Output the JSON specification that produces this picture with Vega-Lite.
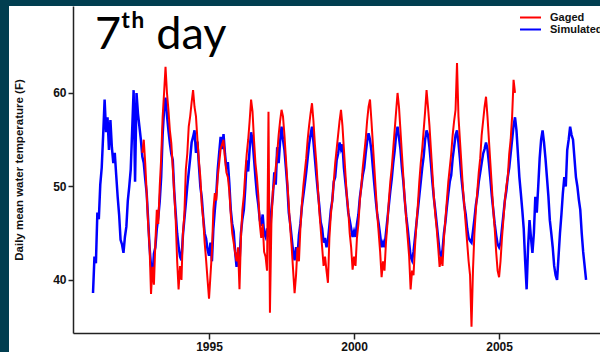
{
  "$schema": "https://vega.github.io/schema/vega-lite/v6.json",
  "autosize": {"type": "none"},
  "padding": {"left": 9, "top": 6, "right": 0, "bottom": 0},
  "width": 591,
  "height": 346,
  "background": "#013e50",
  "title": {"text": "7ᵗʰ day", "font": "Lato", "fontSize": 45, "fontWeight": "normal", "color": "black", "anchor": "start", "frame": "group", "orient": "top", "offset": 0, "baseline": "alphabetic", "dx": 86, "dy": 88},
  "encoding": {
    "x": {"field": "t", "type": "quantitative", "scale": {"domain": [1990.31, 2008.48], "range": [64, 591], "nice": false, "zero": false},
      "axis": {"values": [1995, 2000, 2005], "format": "d", "title": null, "offset": -19, "grid": false, "domainColor": "#222", "domainWidth": 1.5, "tickColor": "#222", "tickWidth": 1.5, "tickSize": 6, "labelPadding": 2, "labelFont": "Liberation Sans", "labelFontWeight": "bold", "labelFontSize": 12, "labelColor": "#111"}},
    "y": {"field": "v", "type": "quantitative", "scale": {"domain": [34.33, 69.3], "range": [327, 0], "nice": false, "zero": false},
      "axis": {"values": [40, 50, 60], "title": "Daily mean water temperature (F)", "offset": -64, "grid": false, "domainColor": "#222", "domainWidth": 1.5, "tickColor": "#222", "tickWidth": 1.5, "tickSize": 5, "labelPadding": 2, "labelFont": "Liberation Sans", "labelFontWeight": "bold", "labelFontSize": 12, "labelColor": "#111", "titleFont": "Liberation Sans", "titleFontWeight": "bold", "titleFontSize": 11.5, "titleColor": "#111", "titlePadding": 28}}
  },
  "layer": [
    {
      "data": {"values": [
{"t":1991.00,"v":38.6},{"t":1991.05,"v":42.5},{"t":1991.10,"v":41.8},{"t":1991.15,"v":47.2},{"t":1991.20,"v":46.5},{"t":1991.25,"v":50.2},{"t":1991.30,"v":52.0},{"t":1991.35,"v":55.5},{"t":1991.40,"v":59.3},{"t":1991.45,"v":55.8},{"t":1991.50,"v":57.4},{"t":1991.55,"v":53.9},{"t":1991.60,"v":57.1},{"t":1991.65,"v":54.2},{"t":1991.70,"v":52.5},{"t":1991.75,"v":53.6},{"t":1991.80,"v":51.2},{"t":1991.85,"v":48.9},{"t":1991.90,"v":47.0},{"t":1991.95,"v":44.3},
{"t":1992.00,"v":43.8},{"t":1992.05,"v":42.9},{"t":1992.10,"v":44.6},{"t":1992.15,"v":45.7},{"t":1992.20,"v":48.5},{"t":1992.25,"v":50.0},{"t":1992.30,"v":51.8},{"t":1992.35,"v":56.0},{"t":1992.40,"v":60.3},{"t":1992.45,"v":50.5},{"t":1992.50,"v":60.0},{"t":1992.55,"v":57.8},{"t":1992.60,"v":56.4},{"t":1992.65,"v":55.0},{"t":1992.70,"v":53.2},{"t":1992.75,"v":52.5},{"t":1992.80,"v":50.8},{"t":1992.85,"v":49.3},{"t":1992.90,"v":46.5},{"t":1992.95,"v":43.5},
{"t":1993.00,"v":41.5},{"t":1993.05,"v":40.3},{"t":1993.10,"v":42.8},{"t":1993.15,"v":43.5},{"t":1993.20,"v":45.5},{"t":1993.25,"v":46.7},{"t":1993.30,"v":48.4},{"t":1993.35,"v":51.0},{"t":1993.40,"v":55.5},{"t":1993.45,"v":58.2},{"t":1993.50,"v":59.5},{"t":1993.55,"v":57.6},{"t":1993.60,"v":56.0},{"t":1993.65,"v":54.6},{"t":1993.70,"v":53.5},{"t":1993.75,"v":52.8},{"t":1993.80,"v":49.5},{"t":1993.85,"v":47.2},{"t":1993.90,"v":45.0},{"t":1993.95,"v":43.6},
{"t":1994.00,"v":42.5},{"t":1994.05,"v":42.1},{"t":1994.10,"v":44.8},{"t":1994.15,"v":46.5},{"t":1994.20,"v":48.2},{"t":1994.25,"v":50.0},{"t":1994.30,"v":51.5},{"t":1994.35,"v":53.0},{"t":1994.40,"v":54.7},{"t":1994.45,"v":55.3},{"t":1994.50,"v":56.0},{"t":1994.55,"v":53.6},{"t":1994.60,"v":54.8},{"t":1994.65,"v":52.3},{"t":1994.70,"v":50.0},{"t":1994.75,"v":48.8},{"t":1994.80,"v":46.7},{"t":1994.85,"v":45.0},{"t":1994.90,"v":44.4},{"t":1994.95,"v":43.2},
{"t":1995.00,"v":42.6},{"t":1995.05,"v":44.0},{"t":1995.10,"v":42.0},{"t":1995.15,"v":45.5},{"t":1995.20,"v":47.5},{"t":1995.25,"v":49.2},{"t":1995.30,"v":51.8},{"t":1995.35,"v":53.6},{"t":1995.40,"v":55.3},{"t":1995.45,"v":54.0},{"t":1995.50,"v":55.6},{"t":1995.55,"v":53.5},{"t":1995.60,"v":51.9},{"t":1995.65,"v":52.6},{"t":1995.70,"v":50.3},{"t":1995.75,"v":47.5},{"t":1995.80,"v":46.0},{"t":1995.85,"v":45.2},{"t":1995.90,"v":43.0},{"t":1995.95,"v":41.4},
{"t":1996.00,"v":43.0},{"t":1996.05,"v":41.8},{"t":1996.10,"v":45.0},{"t":1996.15,"v":46.5},{"t":1996.20,"v":47.5},{"t":1996.25,"v":49.8},{"t":1996.30,"v":52.8},{"t":1996.35,"v":51.6},{"t":1996.40,"v":54.0},{"t":1996.45,"v":55.8},{"t":1996.50,"v":55.0},{"t":1996.55,"v":53.0},{"t":1996.60,"v":51.0},{"t":1996.65,"v":49.2},{"t":1996.70,"v":48.0},{"t":1996.75,"v":46.4},{"t":1996.80,"v":45.8},{"t":1996.85,"v":47.0},{"t":1996.90,"v":45.0},{"t":1996.95,"v":44.6},
{"t":1997.00,"v":45.5},{"t":1997.05,"v":44.6},{"t":1997.10,"v":45.2},{"t":1997.15,"v":47.5},{"t":1997.20,"v":49.0},{"t":1997.25,"v":51.5},{"t":1997.30,"v":50.2},{"t":1997.35,"v":54.2},{"t":1997.40,"v":52.5},{"t":1997.45,"v":54.8},{"t":1997.50,"v":56.4},{"t":1997.55,"v":55.0},{"t":1997.60,"v":53.9},{"t":1997.65,"v":52.0},{"t":1997.70,"v":50.0},{"t":1997.75,"v":47.2},{"t":1997.80,"v":46.0},{"t":1997.85,"v":44.5},{"t":1997.90,"v":43.0},{"t":1997.95,"v":42.1},
{"t":1998.00,"v":43.5},{"t":1998.05,"v":42.5},{"t":1998.10,"v":44.8},{"t":1998.15,"v":46.0},{"t":1998.20,"v":47.8},{"t":1998.25,"v":49.0},{"t":1998.30,"v":50.2},{"t":1998.35,"v":51.5},{"t":1998.40,"v":53.0},{"t":1998.45,"v":54.5},{"t":1998.50,"v":55.5},{"t":1998.55,"v":56.4},{"t":1998.60,"v":54.8},{"t":1998.65,"v":53.0},{"t":1998.70,"v":51.2},{"t":1998.75,"v":49.5},{"t":1998.80,"v":48.0},{"t":1998.85,"v":46.2},{"t":1998.90,"v":45.5},{"t":1998.95,"v":44.0},
{"t":1999.00,"v":44.5},{"t":1999.05,"v":43.5},{"t":1999.10,"v":44.2},{"t":1999.15,"v":45.8},{"t":1999.20,"v":47.5},{"t":1999.25,"v":48.5},{"t":1999.30,"v":50.5},{"t":1999.35,"v":51.0},{"t":1999.40,"v":52.8},{"t":1999.45,"v":53.5},{"t":1999.50,"v":54.7},{"t":1999.55,"v":54.0},{"t":1999.60,"v":54.5},{"t":1999.65,"v":52.0},{"t":1999.70,"v":50.5},{"t":1999.75,"v":49.0},{"t":1999.80,"v":47.2},{"t":1999.85,"v":46.4},{"t":1999.90,"v":45.5},{"t":1999.95,"v":44.6},
{"t":2000.00,"v":45.2},{"t":2000.05,"v":44.6},{"t":2000.10,"v":46.0},{"t":2000.15,"v":47.0},{"t":2000.20,"v":48.8},{"t":2000.25,"v":50.0},{"t":2000.30,"v":51.2},{"t":2000.35,"v":52.0},{"t":2000.40,"v":53.5},{"t":2000.45,"v":54.8},{"t":2000.50,"v":55.7},{"t":2000.55,"v":55.0},{"t":2000.60,"v":53.8},{"t":2000.65,"v":52.0},{"t":2000.70,"v":50.2},{"t":2000.75,"v":48.5},{"t":2000.80,"v":47.0},{"t":2000.85,"v":46.0},{"t":2000.90,"v":44.8},{"t":2000.95,"v":43.5},
{"t":2001.00,"v":44.0},{"t":2001.05,"v":43.5},{"t":2001.10,"v":45.0},{"t":2001.15,"v":46.5},{"t":2001.20,"v":48.0},{"t":2001.25,"v":49.5},{"t":2001.30,"v":50.8},{"t":2001.35,"v":52.5},{"t":2001.40,"v":53.8},{"t":2001.45,"v":55.5},{"t":2001.50,"v":56.4},{"t":2001.55,"v":55.2},{"t":2001.60,"v":54.0},{"t":2001.65,"v":52.0},{"t":2001.70,"v":50.5},{"t":2001.75,"v":48.5},{"t":2001.80,"v":46.8},{"t":2001.85,"v":45.5},{"t":2001.90,"v":44.0},{"t":2001.95,"v":42.5},
{"t":2002.00,"v":42.1},{"t":2002.05,"v":43.0},{"t":2002.10,"v":44.5},{"t":2002.15,"v":46.0},{"t":2002.20,"v":47.5},{"t":2002.25,"v":49.0},{"t":2002.30,"v":50.5},{"t":2002.35,"v":52.0},{"t":2002.40,"v":53.2},{"t":2002.45,"v":55.0},{"t":2002.50,"v":56.0},{"t":2002.55,"v":55.5},{"t":2002.60,"v":54.2},{"t":2002.65,"v":52.5},{"t":2002.70,"v":50.5},{"t":2002.75,"v":48.8},{"t":2002.80,"v":47.5},{"t":2002.85,"v":46.0},{"t":2002.90,"v":44.5},{"t":2002.95,"v":43.0},
{"t":2003.00,"v":42.5},{"t":2003.05,"v":43.2},{"t":2003.10,"v":45.0},{"t":2003.15,"v":46.2},{"t":2003.20,"v":47.8},{"t":2003.25,"v":49.2},{"t":2003.30,"v":50.5},{"t":2003.35,"v":51.2},{"t":2003.40,"v":53.0},{"t":2003.45,"v":54.2},{"t":2003.50,"v":55.5},{"t":2003.55,"v":56.0},{"t":2003.60,"v":54.7},{"t":2003.65,"v":53.0},{"t":2003.70,"v":51.0},{"t":2003.75,"v":49.5},{"t":2003.80,"v":48.0},{"t":2003.85,"v":47.0},{"t":2003.90,"v":45.5},{"t":2003.95,"v":44.5},
{"t":2004.00,"v":44.2},{"t":2004.05,"v":44.0},{"t":2004.10,"v":45.2},{"t":2004.15,"v":46.5},{"t":2004.20,"v":48.0},{"t":2004.25,"v":49.0},{"t":2004.30,"v":50.5},{"t":2004.35,"v":51.5},{"t":2004.40,"v":52.5},{"t":2004.45,"v":53.5},{"t":2004.50,"v":54.0},{"t":2004.55,"v":54.7},{"t":2004.60,"v":54.0},{"t":2004.65,"v":52.5},{"t":2004.70,"v":50.8},{"t":2004.75,"v":49.0},{"t":2004.80,"v":47.5},{"t":2004.85,"v":46.0},{"t":2004.90,"v":44.8},{"t":2004.95,"v":43.8},
{"t":2005.00,"v":43.5},{"t":2005.05,"v":44.0},{"t":2005.10,"v":45.5},{"t":2005.15,"v":47.0},{"t":2005.20,"v":48.5},{"t":2005.25,"v":49.5},{"t":2005.30,"v":51.0},{"t":2005.35,"v":52.0},{"t":2005.40,"v":53.5},{"t":2005.45,"v":55.0},{"t":2005.50,"v":56.5},{"t":2005.55,"v":57.4},{"t":2005.60,"v":56.0},{"t":2005.65,"v":53.5},{"t":2005.70,"v":51.0},{"t":2005.75,"v":49.3},{"t":2005.80,"v":47.5},{"t":2005.85,"v":45.5},{"t":2005.90,"v":42.0},{"t":2005.95,"v":39.0},
{"t":2006.00,"v":43.5},{"t":2006.05,"v":46.4},{"t":2006.10,"v":44.5},{"t":2006.15,"v":42.9},{"t":2006.20,"v":45.0},{"t":2006.25,"v":48.9},{"t":2006.30,"v":47.2},{"t":2006.35,"v":50.0},{"t":2006.40,"v":53.0},{"t":2006.45,"v":55.0},{"t":2006.50,"v":56.0},{"t":2006.55,"v":54.7},{"t":2006.60,"v":53.0},{"t":2006.65,"v":51.0},{"t":2006.70,"v":49.0},{"t":2006.75,"v":46.4},{"t":2006.80,"v":45.0},{"t":2006.85,"v":43.5},{"t":2006.90,"v":41.5},{"t":2006.95,"v":40.5},
{"t":2007.00,"v":40.0},{"t":2007.05,"v":42.5},{"t":2007.10,"v":45.0},{"t":2007.15,"v":47.0},{"t":2007.20,"v":49.3},{"t":2007.25,"v":51.0},{"t":2007.30,"v":50.0},{"t":2007.35,"v":53.9},{"t":2007.40,"v":55.0},{"t":2007.45,"v":56.4},{"t":2007.50,"v":55.5},{"t":2007.55,"v":55.0},{"t":2007.60,"v":53.0},{"t":2007.65,"v":51.0},{"t":2007.70,"v":50.0},{"t":2007.75,"v":48.6},{"t":2007.80,"v":47.5},{"t":2007.85,"v":45.0},{"t":2007.90,"v":43.0},{"t":2007.95,"v":41.5},
{"t":2008.00,"v":40.0}
      ]},
      "mark": {"type": "line", "strokeWidth": 2.5, "interpolate": "linear"},
      "encoding": {"color": {"datum": "Simulated", "type": "nominal", "scale": {"domain": ["Gaged", "Simulated"], "range": ["#ff0000", "#0000ff"]},
        "legend": {"orient": "none", "legendX": 515, "legendY": 5, "title": null, "symbolType": "M-2,0H2", "symbolSize": 110, "symbolStrokeWidth": 2, "labelFont": "Liberation Sans", "labelFontWeight": "bold", "labelFontSize": 11, "labelColor": "#111", "rowPadding": 0, "labelOffset": 13}}}
    },
    {
      "data": {"values": [
{"t":1992.70,"v":53.6},{"t":1992.75,"v":55.0},{"t":1992.80,"v":52.5},{"t":1992.85,"v":49.3},{"t":1992.90,"v":46.0},{"t":1992.95,"v":43.5},
{"t":1993.00,"v":38.5},{"t":1993.05,"v":41.4},{"t":1993.10,"v":39.5},{"t":1993.15,"v":44.0},{"t":1993.20,"v":47.5},{"t":1993.25,"v":46.0},{"t":1993.30,"v":50.0},{"t":1993.35,"v":53.0},{"t":1993.40,"v":57.4},{"t":1993.45,"v":60.0},{"t":1993.50,"v":62.8},{"t":1993.55,"v":60.0},{"t":1993.60,"v":58.2},{"t":1993.65,"v":56.0},{"t":1993.70,"v":54.6},{"t":1993.75,"v":52.0},{"t":1993.80,"v":49.3},{"t":1993.85,"v":46.5},{"t":1993.90,"v":42.1},{"t":1993.95,"v":39.0},
{"t":1994.00,"v":41.5},{"t":1994.05,"v":40.0},{"t":1994.10,"v":45.0},{"t":1994.15,"v":47.0},{"t":1994.20,"v":51.8},{"t":1994.25,"v":53.5},{"t":1994.30,"v":56.4},{"t":1994.35,"v":57.5},{"t":1994.40,"v":59.0},{"t":1994.45,"v":60.3},{"t":1994.50,"v":58.5},{"t":1994.55,"v":57.5},{"t":1994.60,"v":55.0},{"t":1994.65,"v":52.8},{"t":1994.70,"v":51.0},{"t":1994.75,"v":48.0},{"t":1994.80,"v":46.5},{"t":1994.85,"v":44.0},{"t":1994.90,"v":42.1},{"t":1994.95,"v":40.0},
{"t":1995.00,"v":38.0},{"t":1995.05,"v":40.5},{"t":1995.10,"v":43.0},{"t":1995.15,"v":47.5},{"t":1995.20,"v":49.3},{"t":1995.25,"v":48.5},{"t":1995.30,"v":51.0},{"t":1995.35,"v":52.5},{"t":1995.40,"v":54.0},{"t":1995.45,"v":54.5},{"t":1995.50,"v":55.0},{"t":1995.55,"v":53.0},{"t":1995.60,"v":51.5},{"t":1995.65,"v":51.0},{"t":1995.70,"v":49.5},{"t":1995.75,"v":47.0},{"t":1995.80,"v":45.0},{"t":1995.85,"v":44.0},{"t":1995.90,"v":42.9},{"t":1995.95,"v":42.0},
{"t":1996.00,"v":43.5},{"t":1996.05,"v":39.0},{"t":1996.10,"v":44.5},{"t":1996.15,"v":47.5},{"t":1996.20,"v":49.0},{"t":1996.25,"v":51.5},{"t":1996.30,"v":53.5},{"t":1996.35,"v":55.0},{"t":1996.40,"v":57.0},{"t":1996.45,"v":59.3},{"t":1996.50,"v":58.0},{"t":1996.55,"v":55.0},{"t":1996.60,"v":52.5},{"t":1996.65,"v":51.0},{"t":1996.70,"v":49.0},{"t":1996.75,"v":46.0},{"t":1996.80,"v":44.5},{"t":1996.85,"v":46.0},{"t":1996.90,"v":43.0},{"t":1996.95,"v":42.5},
{"t":1997.00,"v":41.0},{"t":1997.05,"v":58.0},{"t":1997.10,"v":36.5},{"t":1997.15,"v":46.0},{"t":1997.20,"v":49.5},{"t":1997.25,"v":50.5},{"t":1997.30,"v":52.0},{"t":1997.35,"v":53.5},{"t":1997.40,"v":55.5},{"t":1997.45,"v":57.0},{"t":1997.50,"v":58.2},{"t":1997.55,"v":57.5},{"t":1997.60,"v":55.5},{"t":1997.65,"v":53.0},{"t":1997.70,"v":50.5},{"t":1997.75,"v":48.0},{"t":1997.80,"v":45.5},{"t":1997.85,"v":43.5},{"t":1997.90,"v":41.0},{"t":1997.95,"v":38.6},
{"t":1998.00,"v":40.5},{"t":1998.05,"v":43.5},{"t":1998.10,"v":42.0},{"t":1998.15,"v":45.5},{"t":1998.20,"v":48.0},{"t":1998.25,"v":50.0},{"t":1998.30,"v":51.5},{"t":1998.35,"v":53.0},{"t":1998.40,"v":55.0},{"t":1998.45,"v":56.5},{"t":1998.50,"v":57.8},{"t":1998.55,"v":58.9},{"t":1998.60,"v":57.0},{"t":1998.65,"v":54.5},{"t":1998.70,"v":52.5},{"t":1998.75,"v":50.0},{"t":1998.80,"v":47.5},{"t":1998.85,"v":45.5},{"t":1998.90,"v":43.5},{"t":1998.95,"v":41.5},
{"t":1999.00,"v":42.5},{"t":1999.05,"v":41.0},{"t":1999.10,"v":39.7},{"t":1999.15,"v":44.5},{"t":1999.20,"v":47.0},{"t":1999.25,"v":48.5},{"t":1999.30,"v":50.5},{"t":1999.35,"v":52.5},{"t":1999.40,"v":54.0},{"t":1999.45,"v":55.5},{"t":1999.50,"v":57.0},{"t":1999.55,"v":58.2},{"t":1999.60,"v":56.5},{"t":1999.65,"v":54.0},{"t":1999.70,"v":51.5},{"t":1999.75,"v":49.0},{"t":1999.80,"v":47.5},{"t":1999.85,"v":45.0},{"t":1999.90,"v":43.5},{"t":1999.95,"v":41.1},
{"t":2000.00,"v":42.5},{"t":2000.05,"v":41.5},{"t":2000.10,"v":44.5},{"t":2000.15,"v":46.0},{"t":2000.20,"v":48.5},{"t":2000.25,"v":50.0},{"t":2000.30,"v":52.0},{"t":2000.35,"v":53.5},{"t":2000.40,"v":55.0},{"t":2000.45,"v":57.0},{"t":2000.50,"v":58.5},{"t":2000.55,"v":59.3},{"t":2000.60,"v":57.0},{"t":2000.65,"v":54.5},{"t":2000.70,"v":52.0},{"t":2000.75,"v":49.5},{"t":2000.80,"v":47.0},{"t":2000.85,"v":45.0},{"t":2000.90,"v":43.0},{"t":2000.95,"v":40.3},
{"t":2001.00,"v":42.0},{"t":2001.05,"v":41.0},{"t":2001.10,"v":44.0},{"t":2001.15,"v":46.0},{"t":2001.20,"v":48.5},{"t":2001.25,"v":50.5},{"t":2001.30,"v":52.0},{"t":2001.35,"v":54.0},{"t":2001.40,"v":56.0},{"t":2001.45,"v":58.0},{"t":2001.50,"v":60.0},{"t":2001.55,"v":58.5},{"t":2001.60,"v":56.0},{"t":2001.65,"v":53.5},{"t":2001.70,"v":51.0},{"t":2001.75,"v":48.5},{"t":2001.80,"v":46.5},{"t":2001.85,"v":44.5},{"t":2001.90,"v":42.5},{"t":2001.95,"v":39.0},
{"t":2002.00,"v":41.0},{"t":2002.05,"v":40.5},{"t":2002.10,"v":43.5},{"t":2002.15,"v":46.0},{"t":2002.20,"v":48.0},{"t":2002.25,"v":50.5},{"t":2002.30,"v":52.5},{"t":2002.35,"v":54.0},{"t":2002.40,"v":56.0},{"t":2002.45,"v":58.0},{"t":2002.50,"v":60.3},{"t":2002.55,"v":58.5},{"t":2002.60,"v":56.5},{"t":2002.65,"v":54.0},{"t":2002.70,"v":51.5},{"t":2002.75,"v":49.0},{"t":2002.80,"v":47.0},{"t":2002.85,"v":45.5},{"t":2002.90,"v":43.5},{"t":2002.95,"v":41.4},
{"t":2003.00,"v":42.5},{"t":2003.05,"v":41.5},{"t":2003.10,"v":44.5},{"t":2003.15,"v":46.5},{"t":2003.20,"v":48.5},{"t":2003.25,"v":50.5},{"t":2003.30,"v":52.0},{"t":2003.35,"v":53.5},{"t":2003.40,"v":55.5},{"t":2003.45,"v":57.0},{"t":2003.50,"v":58.2},{"t":2003.55,"v":63.2},{"t":2003.60,"v":57.5},{"t":2003.65,"v":55.0},{"t":2003.70,"v":52.5},{"t":2003.75,"v":50.0},{"t":2003.80,"v":48.0},{"t":2003.85,"v":46.0},{"t":2003.90,"v":44.0},{"t":2003.95,"v":42.0},
{"t":2004.00,"v":40.5},{"t":2004.05,"v":35.0},{"t":2004.10,"v":41.0},{"t":2004.15,"v":45.0},{"t":2004.20,"v":47.5},{"t":2004.25,"v":49.5},{"t":2004.30,"v":51.5},{"t":2004.35,"v":53.0},{"t":2004.40,"v":55.5},{"t":2004.45,"v":57.0},{"t":2004.50,"v":58.5},{"t":2004.55,"v":59.6},{"t":2004.60,"v":57.5},{"t":2004.65,"v":55.0},{"t":2004.70,"v":52.5},{"t":2004.75,"v":50.0},{"t":2004.80,"v":47.5},{"t":2004.85,"v":45.5},{"t":2004.90,"v":43.0},{"t":2004.95,"v":41.0},
{"t":2005.00,"v":40.3},{"t":2005.05,"v":42.0},{"t":2005.10,"v":44.5},{"t":2005.15,"v":46.5},{"t":2005.20,"v":48.5},{"t":2005.25,"v":50.0},{"t":2005.30,"v":51.0},{"t":2005.35,"v":53.5},{"t":2005.40,"v":55.0},{"t":2005.45,"v":57.5},{"t":2005.50,"v":61.4},{"t":2005.55,"v":60.0}
      ]},
      "mark": {"type": "line", "strokeWidth": 2, "interpolate": "linear"},
      "encoding": {"color": {"datum": "Gaged", "type": "nominal"}}
    }
  ],
  "resolve": {"scale": {"color": "shared"}},
  "config": {"view": {"fill": "white", "stroke": null}}
}
